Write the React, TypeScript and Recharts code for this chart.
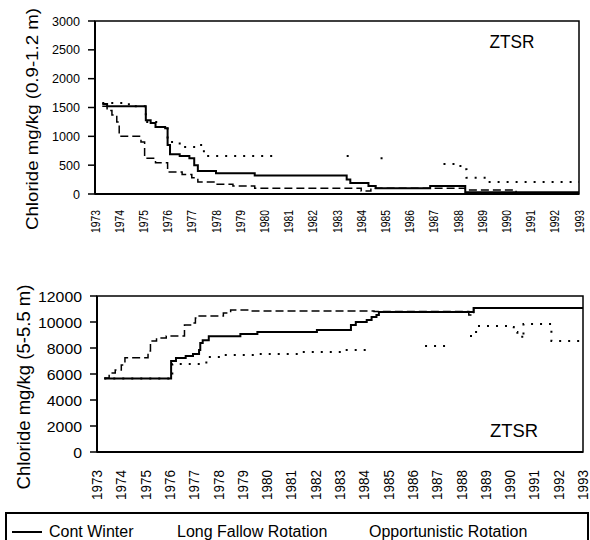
import { Label, Line, LineChart, ReferenceArea, XAxis, YAxis } from 'recharts'

const FONT = "'Liberation Sans', Arial, sans-serif"

const yearTicks = [
  1973, 1974, 1975, 1976, 1977, 1978, 1979, 1980, 1981, 1982, 1983,
  1984, 1985, 1986, 1987, 1988, 1989, 1990, 1991, 1992, 1993,
]
const topYTicks = [0, 500, 1000, 1500, 2000, 2500, 3000]
const bottomYTicks = [0, 2000, 4000, 6000, 8000, 10000, 12000]

// 0.9-1.2 m
const topContYears = [1973.3, 1973.5, 1975.1, 1975.3, 1975.5, 1975.9, 1976.0, 1976.1, 1976.5, 1976.9, 1977.1, 1977.25, 1978.0, 1979.6, 1983.4, 1983.55, 1984.3, 1984.6, 1986.85, 1988.3, 1993]
const topContValues = [1560, 1520, 1280, 1230, 1160, 1140, 850, 690, 660, 620, 500, 400, 360, 320, 250, 190, 140, 100, 140, 30, 30]

const topFallowYears = [1973.3, 1973.5, 1973.7, 1973.9, 1974.0, 1974.9, 1975.05, 1975.5, 1976.0, 1976.6, 1977.0, 1977.25, 1978.0, 1978.7, 1979.6, 1984.0, 1984.4, 1988.3, 1990.4, 1993]
const topFallowValues = [1520, 1450, 1370, 1250, 1000, 900, 620, 540, 380, 340, 280, 210, 170, 140, 100, 50, 100, 70, 20, 20]

const topOppYears = [1973.3, 1974.4, 1975.1, 1975.6, 1976.0, 1976.5, 1977.15, 1977.5, 1980.5, 1980.6, 1983.4, 1983.7, 1983.8, 1984.8, 1985.0, 1985.1, 1987.4, 1988.1, 1988.35, 1989.1, 1993]
const topOppValues = [1580, 1520, 1250, 1160, 900, 815, 850, 660, 660, null, 660, 660, null, 620, 620, null, 520, 430, 280, 210, 210]

// 5-5.5 m
const botContYears = [1973.3, 1976.05, 1976.25, 1976.65, 1976.95, 1977.2, 1977.25, 1977.35, 1977.6, 1978.9, 1979.6, 1982.05, 1983.45, 1983.65, 1984.1, 1984.3, 1984.5, 1984.6, 1988.5, 1993]
const botContValues = [5650, 7000, 7230, 7380, 7540, 7850, 8380, 8600, 8900, 9070, 9230, 9380, 9770, 10000, 10150, 10380, 10540, 10770, 11070, 11070]

const botFallowYears = [1973.3, 1973.5, 1973.75, 1974.0, 1974.15, 1975.1, 1975.2, 1975.45, 1975.85, 1976.6, 1976.85, 1977.05, 1977.15, 1978.2, 1978.5, 1979.3, 1984.4, 1988.3, 1988.5, 1993]
const botFallowValues = [5700, 6070, 6300, 6700, 7250, 7760, 8540, 8770, 8920, 9770, 9920, 10300, 10460, 10690, 10920, 10850, 10800, 10540, 11070, 11070]

const botOppYears = [1973.3, 1976.1, 1977.5, 1978.2, 1979.5, 1981.4, 1983.1, 1984.1, 1984.2, 1986.5, 1987.5, 1987.6, 1988.35, 1988.6, 1989.9, 1990.15, 1990.3, 1990.5, 1990.55, 1991.7, 1993]
const botOppValues = [5650, 6770, 7300, 7460, 7540, 7690, 7850, 7850, null, 8150, 8150, null, 8920, 9690, 9610, 9230, 9000, 8690, 9840, 8540, 8540]

const seriesNames = ['Cont Winter', 'Long Fallow Rotation', 'Opportunistic Rotation']

const toRows = (years: number[], values: (number | null)[]) =>
  years.map((year, i) => ({ year, v: values[i] }))

// the original text is tall and narrow, so squeeze it with textLength
function yearTick(fontSize: number, length: number) {
  return (p: any) => (
    <text
      x={p.x}
      y={p.y}
      transform={`rotate(-90, ${p.x}, ${p.y})`}
      textAnchor="end"
      dominantBaseline="central"
      fontSize={fontSize}
      fontFamily={FONT}
      fill="#000"
      textLength={length}
      lengthAdjust="spacingAndGlyphs"
    >
      {p.payload.value}
    </text>
  )
}

function valueTick(fontSize: number, perChar: number) {
  return (p: any) => {
    const s = String(p.payload.value)
    return (
      <text
        x={p.x}
        y={p.y}
        textAnchor="end"
        dominantBaseline="central"
        fontSize={fontSize}
        fontFamily={FONT}
        fill="#000"
        textLength={s.length * perChar}
        lengthAdjust="spacingAndGlyphs"
      >
        {s}
      </text>
    )
  }
}

function fixedText(text: string, x: number, y: number, size: number, length: number, rotate = false) {
  return () => (
    <text
      x={x}
      y={y}
      transform={rotate ? `rotate(-90, ${x}, ${y})` : undefined}
      textAnchor="middle"
      dominantBaseline="central"
      fontSize={size}
      fontFamily={FONT}
      fill="#000"
      textLength={length}
      lengthAdjust="spacingAndGlyphs"
    >
      {text}
    </text>
  )
}

interface PanelProps {
  height: number
  margin: { top: number; right: number; bottom: number; left: number }
  yWidth: number
  yMax: number
  yTicks: number[]
  yFont: number
  yChar: number
  xFont: number
  xLen: number
  xGap: number
  title: string
  titleX: number
  titleY: number
  titleSize: number
  titleLength: number
  tagX: number
  tagY: number
  tagSize: number
  tagLength: number
  cont: { year: number; v: number | null }[]
  fallow: { year: number; v: number | null }[]
  opp: { year: number; v: number | null }[]
}

function Panel(p: PanelProps) {
  return (
    <LineChart width={590} height={p.height} margin={p.margin}>
      <XAxis
        dataKey="year"
        type="number"
        domain={[1973, 1993]}
        ticks={yearTicks}
        interval={0}
        height={40}
        allowDataOverflow
        tickLine={false}
        tickSize={0}
        tickMargin={p.xGap}
        axisLine={{ stroke: '#000', strokeWidth: 2 }}
        tick={yearTick(p.xFont, p.xLen)}
      />
      <YAxis
        type="number"
        domain={[0, p.yMax]}
        ticks={p.yTicks}
        interval={0}
        width={p.yWidth}
        tickSize={7}
        tickMargin={8}
        axisLine={{ stroke: '#000', strokeWidth: 2 }}
        tickLine={{ stroke: '#000', strokeWidth: 1.5 }}
        tick={valueTick(p.yFont, p.yChar)}
      >
        <Label content={fixedText(p.title, p.titleX, p.titleY, p.titleSize, p.titleLength, true)} />
      </YAxis>
      <ReferenceArea
        x1={1973}
        x2={1993}
        y1={0}
        y2={p.yMax}
        fill="none"
        stroke="#000"
        strokeWidth={1.5}
        ifOverflow="visible"
        label={fixedText('ZTSR', p.tagX, p.tagY, p.tagSize, p.tagLength)}
      />
      <Line
        data={p.opp}
        dataKey="v"
        name={seriesNames[2]}
        type="stepAfter"
        stroke="#000"
        strokeWidth={2}
        strokeDasharray="2 7"
        dot={false}
        activeDot={false}
        isAnimationActive={false}
      />
      <Line
        data={p.fallow}
        dataKey="v"
        name={seriesNames[1]}
        type="stepAfter"
        stroke="#000"
        strokeWidth={1.5}
        strokeDasharray="8 4"
        dot={false}
        activeDot={false}
        isAnimationActive={false}
      />
      <Line
        data={p.cont}
        dataKey="v"
        name={seriesNames[0]}
        type="stepAfter"
        stroke="#000"
        strokeWidth={2}
        dot={false}
        activeDot={false}
        isAnimationActive={false}
      />
    </LineChart>
  )
}

export default function App() {
  return (
    <div
      style={{
        position: 'absolute',
        left: 0,
        top: 0,
        width: 590,
        height: 540,
        overflow: 'hidden',
        background: '#fff',
        fontFamily: FONT,
      }}
    >
      <div style={{ position: 'absolute', left: 0, top: 0 }}>
        <Panel
          height={260}
          margin={{ top: 21, right: 11, bottom: 26, left: 0 }}
          yWidth={95}
          yMax={3000}
          yTicks={topYTicks}
          yFont={13}
          yChar={7}
          xFont={13}
          xLen={23}
          xGap={16}
          title="Chloride mg/kg (0.9-1.2 m)"
          titleX={32}
          titleY={119}
          titleSize={17}
          titleLength={222}
          tagX={512}
          tagY={42}
          tagSize={18}
          tagLength={45}
          cont={toRows(topContYears, topContValues)}
          fallow={toRows(topFallowYears, topFallowValues)}
          opp={toRows(topOppYears, topOppValues)}
        />
      </div>
      <div style={{ position: 'absolute', left: 0, top: 260 }}>
        <Panel
          height={250}
          margin={{ top: 36, right: 7, bottom: 18, left: 0 }}
          yWidth={97}
          yMax={12000}
          yTicks={bottomYTicks}
          yFont={15}
          yChar={8.8}
          xFont={14}
          xLen={30}
          xGap={18}
          title="Chloride mg/kg (5-5.5 m)"
          titleX={24}
          titleY={127}
          titleSize={18}
          titleLength={205}
          tagX={514}
          tagY={170}
          tagSize={19}
          tagLength={48}
          cont={toRows(botContYears, botContValues)}
          fallow={toRows(botFallowYears, botFallowValues)}
          opp={toRows(botOppYears, botOppValues)}
        />
      </div>
      <div
        style={{
          position: 'absolute',
          left: 5,
          top: 512,
          width: 584,
          height: 28,
          border: '2px solid #000',
          borderBottom: 'none',
          boxSizing: 'border-box',
          fontSize: 16,
          color: '#000',
        }}
      >
        <div style={{ position: 'absolute', left: 5, top: 17, width: 30, height: 2, background: '#000' }} />
        <span style={{ position: 'absolute', left: 42, top: 9, lineHeight: '18px' }}>{seriesNames[0]}</span>
        <span style={{ position: 'absolute', left: 170, top: 9, lineHeight: '18px' }}>{seriesNames[1]}</span>
        <span style={{ position: 'absolute', left: 362, top: 9, lineHeight: '18px' }}>{seriesNames[2]}</span>
      </div>
    </div>
  )
}
